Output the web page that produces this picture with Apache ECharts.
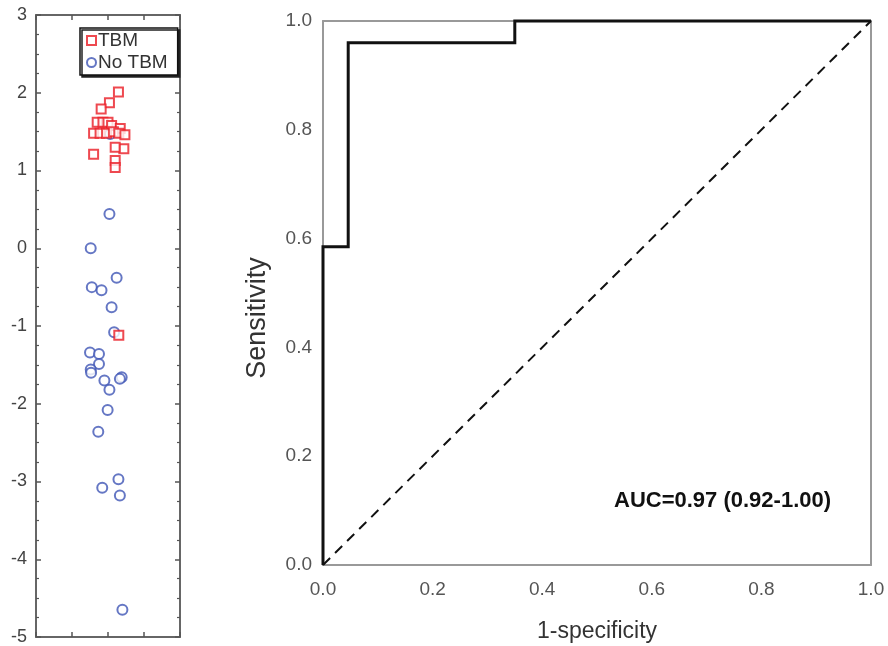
<!DOCTYPE html>
<html>
<head>
<meta charset="utf-8">
<script src="https://cdn.jsdelivr.net/npm/echarts@6/dist/echarts.min.js"></script>
<style>html,body{margin:0;padding:0;background:#fff}#c{width:888px;height:646px}</style>
</head>
<body>
<div id="c"></div>
<script>
// Left panel: scores by group [x jitter, value]
var tbmPoints = [
  [2.29, 2.01], [2.04, 1.87], [1.81, 1.79], [1.70, 1.62], [1.86, 1.62], [2.00, 1.62],
  [2.10, 1.58], [2.34, 1.54], [1.60, 1.48], [1.78, 1.48], [1.96, 1.48], [2.15, 1.50],
  [2.30, 1.48], [2.47, 1.46], [2.44, 1.28], [2.20, 1.30], [1.60, 1.21], [2.20, 1.13],
  [2.20, 1.04], [2.30, -1.12]
];
var noTbmPoints = [
  [2.04, 0.44], [1.52, 0.00], [2.24, -0.38], [1.55, -0.50], [1.82, -0.54], [2.10, -0.76],
  [2.17, -1.08], [1.50, -1.34], [1.75, -1.36], [1.75, -1.49], [1.52, -1.56], [1.53, -1.60],
  [1.90, -1.70], [2.38, -1.66], [2.33, -1.68], [2.04, -1.82], [1.99, -2.08], [1.73, -2.36],
  [2.29, -2.97], [1.84, -3.08], [2.33, -3.18], [2.40, -4.65], [2.06, 1.47]
];
var leftYTicks = [-5, -4, -3, -2, -1, 0, 1, 2, 3];

// Right panel: ROC curve
var rocX = [0, 0, 0.046, 0.046, 0.35, 0.35, 1.0];
var rocY = [0, 0.585, 0.585, 0.96, 0.96, 1.0, 1.0];
var diagX = [0, 1];
var diagY = [0, 1];
var rocTicks = [0.0, 0.2, 0.4, 0.6, 0.8, 1.0];
var aucText = 'AUC=0.97 (0.92-1.00)';

var FONT = '"Liberation Sans", Arial, sans-serif';
var chart = echarts.init(document.getElementById('c'));

function zip(a, b) { return a.map(function (v, i) { return [v, b[i]]; }); }

var leftAxisLine = { show: true, onZero: false, lineStyle: { color: '#666', width: 2 } };
var leftTick = { show: true, inside: true, length: 5, lineStyle: { color: '#555', width: 1.5 } };
var leftMinor = { show: true, splitNumber: 4, length: 3, lineStyle: { color: '#555', width: 1.2 } };
var rightAxisLine = { show: true, onZero: false, lineStyle: { color: '#999', width: 2 } };

chart.setOption({
  animation: false,
  backgroundColor: '#fff',
  textStyle: { fontFamily: FONT },
  grid: [
    { left: 36, right: 708, top: 15, bottom: 9, containLabel: false, outerBoundsMode: 'none' },
    { left: 323, right: 17, top: 21, bottom: 81, containLabel: false, outerBoundsMode: 'none' }
  ],
  legend: {
    left: 80, top: 28,
    orient: 'vertical',
    data: ['TBM', 'No TBM'],
    itemWidth: 9, itemHeight: 9, itemGap: 3,
    padding: [3, 10, 3, 6],
    borderColor: '#111', borderWidth: 1.5,
    backgroundColor: '#fff',
    shadowColor: '#222', shadowBlur: 0, shadowOffsetX: 2, shadowOffsetY: 2,
    textStyle: { fontSize: 19, color: '#333', fontFamily: FONT, padding: [0, 0, 0, -3] }
  },
  xAxis: [
    { gridIndex: 0, type: 'value', min: 0, max: 4, interval: 1, position: 'bottom',
      axisLine: leftAxisLine, axisTick: leftTick, axisLabel: { show: false }, splitLine: { show: false } },
    { gridIndex: 0, type: 'value', min: 0, max: 4, interval: 1, position: 'top',
      axisLine: leftAxisLine, axisTick: leftTick, axisLabel: { show: false }, splitLine: { show: false } },
    { gridIndex: 1, type: 'value', min: 0, max: 1, interval: 0.2, position: 'bottom',
      name: '1-specificity', nameLocation: 'middle', nameGap: 55,
      nameTextStyle: { fontSize: 23, color: '#333', fontFamily: FONT },
      axisLine: rightAxisLine, axisTick: { show: false },
      axisLabel: { margin: 15, fontSize: 19, color: '#555', fontFamily: FONT,
        formatter: function (v) { return v.toFixed(1); } },
      splitLine: { show: false } },
    { gridIndex: 1, type: 'value', min: 0, max: 1, position: 'top',
      axisLine: rightAxisLine, axisTick: { show: false }, axisLabel: { show: false }, splitLine: { show: false } }
  ],
  yAxis: [
    { gridIndex: 0, type: 'value', min: -5, max: 3, interval: 1, position: 'left',
      axisLine: leftAxisLine, axisTick: leftTick, minorTick: leftMinor,
      axisLabel: { margin: 9, fontSize: 18, color: '#444', fontFamily: FONT,
        formatter: function (v) { return leftYTicks.indexOf(v) >= 0 ? String(v) : ''; } },
      splitLine: { show: false } },
    { gridIndex: 0, type: 'value', min: -5, max: 3, interval: 1, position: 'right',
      axisLine: leftAxisLine, axisTick: leftTick, minorTick: leftMinor,
      axisLabel: { show: false }, splitLine: { show: false } },
    { gridIndex: 1, type: 'value', min: 0, max: 1, interval: 0.2, position: 'left',
      name: 'Sensitivity', nameLocation: 'middle', nameGap: 52, nameRotate: 90,
      nameTextStyle: { fontSize: 27, color: '#333', fontFamily: FONT, padding: [0, 50, 0, 0] },
      axisLine: rightAxisLine, axisTick: { show: false },
      axisLabel: { margin: 11, fontSize: 19, color: '#555', fontFamily: FONT,
        formatter: function (v) { return rocTicks.indexOf(Math.round(v * 10) / 10) >= 0 ? v.toFixed(1) : ''; } },
      splitLine: { show: false } },
    { gridIndex: 1, type: 'value', min: 0, max: 1, position: 'right',
      axisLine: rightAxisLine, axisTick: { show: false }, axisLabel: { show: false }, splitLine: { show: false } }
  ],
  series: [
    { name: 'No TBM', type: 'scatter', xAxisIndex: 0, yAxisIndex: 0, data: noTbmPoints,
      symbol: 'emptyCircle', symbolSize: 10,
      itemStyle: { color: '#3f55b5', borderColor: '#3f55b5', borderWidth: 2 } },
    { name: 'TBM', type: 'scatter', xAxisIndex: 0, yAxisIndex: 0, data: tbmPoints,
      symbol: 'emptyRect', symbolSize: 9,
      itemStyle: { color: '#ea1c24', borderColor: '#ea1c24', borderWidth: 2 } },
    { name: 'diag', type: 'line', xAxisIndex: 2, yAxisIndex: 2, data: zip(diagX, diagY),
      symbol: 'none', silent: true,
      lineStyle: { color: '#111', width: 2, type: [10, 7] } },
    { name: 'ROC', type: 'line', xAxisIndex: 2, yAxisIndex: 2, data: zip(rocX, rocY),
      symbol: 'none', silent: true, clip: false,
      lineStyle: { color: '#111', width: 3, join: 'miter' } }
  ],
  graphic: [
    { type: 'text', left: 614, top: 490,
      style: { text: aucText, fontSize: 22, fontWeight: 'bold', fill: '#111', fontFamily: FONT } }
  ]
});
</script>
</body>
</html>
